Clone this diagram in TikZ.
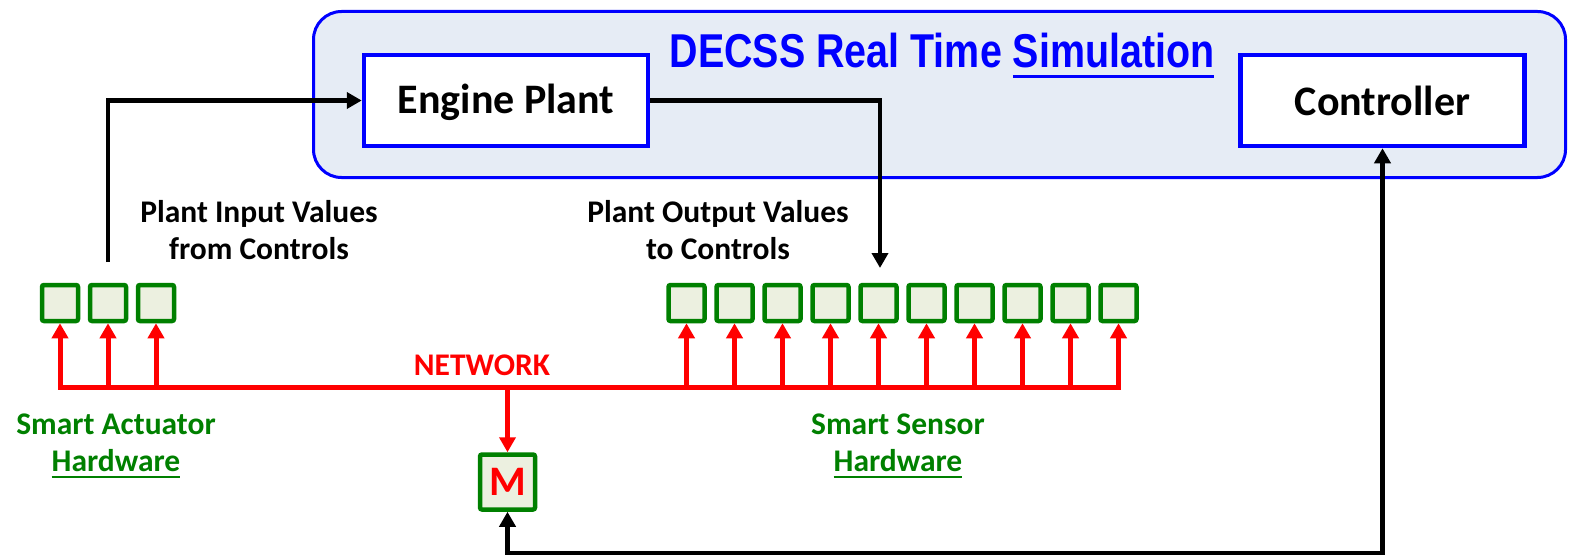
\documentclass[tikz,border=0pt]{standalone}
\usepackage{fontspec}
\setmainfont{Carlito}
\newfontfamily\titlefont[FakeStretch=0.83]{Liberation Sans Bold}
\usepackage{xcolor}
\usetikzlibrary{arrows.meta, positioning}

\definecolor{simblue}{RGB}{0,0,255}
\definecolor{simfill}{RGB}{230,236,245}
\definecolor{hwgreen}{RGB}{0,128,0}
\definecolor{hwfill}{RGB}{236,240,224}
\definecolor{netred}{RGB}{255,0,0}

% subrayado grueso: #1 = desplazamiento, #2 = grosor
\newcommand{\ulbar}[3]{\setbox0=\hbox{#3}\rlap{\rule[#1]{\wd0}{#2}}\box0}

\begin{document}
\begin{tikzpicture}[
		x=1pt, y=-1pt,
		font=\bfseries,
		simbox/.style={draw=simblue, line width=3pt, fill=simfill, rounded corners=28pt,
			minimum width=1252pt, minimum height=166pt},
		block/.style={rectangle, draw=simblue, line width=4.5pt, fill=white,
			minimum width=284pt, minimum height=91pt, font=\bfseries\fontsize{42}{48}\selectfont},
		hw/.style={rectangle, draw=hwgreen, line width=4.5pt, fill=hwfill, rounded corners=2pt,
			minimum size=36pt, inner sep=0pt},
		lbl/.style={align=center, font=\bfseries\fontsize{31.5}{37}\selectfont},
		hwlbl/.style={lbl, text=hwgreen},
		line/.style={line width=4.5pt, -{Triangle[length=15pt, width=16pt]}},
		net/.style={draw=netred, line width=5pt, -{Triangle[length=15pt, width=16pt]}}
		]
		\useasboundingbox (0,0) rectangle (1571,559);
		
		% 1. Simulación en tiempo real
		\node[simbox] (sim) at (939.5,94.5) {};
		\node[anchor=base, text=simblue, font=\titlefont\fontsize{47.5}{50}\selectfont] (title) at (942,68)
		{DECSS Real Time \ulbar{-10pt}{3pt}{Simulation}};
		\node[block, text depth=4pt] (plant) at (506,100.5) {Engine Plant};
		\node[block] (ctrl) at (1382.5,100.5) {Controller};
		
		% 2. Hardware inteligente (actuadores y sensores)
		\node[hw] (a1) at (60,303) {};
		\node[hw, right=7.5pt of a1] (a2) {};
		\node[hw, right=7.5pt of a2] (a3) {};
		
		\node[hw] (s1) at (686.5,303) {};
		\node[hw, right=7.5pt of s1] (s2) {};
		\node[hw, right=7.5pt of s2] (s3) {};
		\node[hw, right=7.5pt of s3] (s4) {};
		\node[hw, right=7.5pt of s4] (s5) {};
		\node[hw, right=7.5pt of s5] (s6) {};
		\node[hw, right=7.5pt of s6] (s7) {};
		\node[hw, right=7.5pt of s7] (s8) {};
		\node[hw, right=7.5pt of s8] (s9) {};
		\node[hw, right=7.5pt of s9] (s10) {};
		
		\node[hw, minimum size=55pt, text=netred, font=\bfseries\fontsize{42}{42}\selectfont] (mon) at (507.5,482) {M};
		
		% 3. Etiquetas
		\node[lbl] (inlbl) at (259,230.5) {Plant Input Values\\from Controls};
		\node[lbl] (outlbl) at (718,230) {Plant Output Values\\to Controls};
		\node[lbl, text=netred] (netlbl) at (482,365) {NETWORK};
		\node[hwlbl] (actlbl) at (116,446) {Smart Actuator\\\ulbar{-6.5pt}{2.5pt}{Hardware}};
		\node[hwlbl] (senlbl) at (898,446) {Smart Sensor\\\ulbar{-6.5pt}{2.5pt}{Hardware}};
		
		% 4. Red (bus rojo)
		\coordinate (bus) at (0,387);
		\draw[draw=netred, line width=5pt, line cap=rect] (a1.south |- bus) -- (s10.south |- bus);
		\draw[net] (a1.south |- bus) -- (a1.south);
		\draw[net] (a2.south |- bus) -- (a2.south);
		\draw[net] (a3.south |- bus) -- (a3.south);
		\draw[net] (s1.south |- bus) -- (s1.south);
		\draw[net] (s2.south |- bus) -- (s2.south);
		\draw[net] (s3.south |- bus) -- (s3.south);
		\draw[net] (s4.south |- bus) -- (s4.south);
		\draw[net] (s5.south |- bus) -- (s5.south);
		\draw[net] (s6.south |- bus) -- (s6.south);
		\draw[net] (s7.south |- bus) -- (s7.south);
		\draw[net] (s8.south |- bus) -- (s8.south);
		\draw[net] (s9.south |- bus) -- (s9.south);
		\draw[net] (s10.south |- bus) -- (s10.south);
		\draw[net] (mon.north |- bus) -- (mon.north);
		
		% 5. Conexiones con la simulación
		\coordinate (inEnd) at (108,262);
		\coordinate (outEnd) at (880,268);
		\coordinate (floor) at (0,553);
		\draw[line] (inEnd) |- (plant.west);
		\draw[line] (plant.east) -| (outEnd);
		\draw[line, {Triangle[length=15pt, width=16pt]}-{Triangle[length=15pt, width=16pt]}]
		(mon.south) -- (mon.south |- floor) -- (ctrl.south |- floor) -- (ctrl.south);
		
	\end{tikzpicture}
\end{document}
